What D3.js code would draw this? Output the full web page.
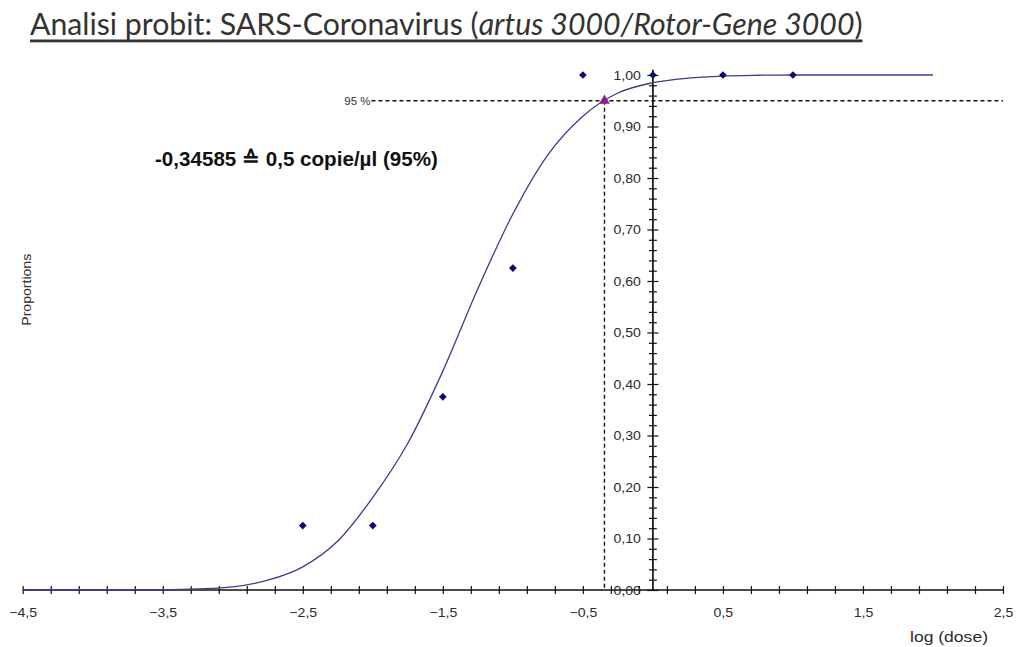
<!DOCTYPE html>
<html>
<head>
<meta charset="utf-8">
<script src="https://cdn.jsdelivr.net/npm/d3@7"></script>
<style>
  html, body { margin: 0; padding: 0; background: #fff; }
  svg { display: block; }
</style>
</head>
<body>
<svg id="chart" width="1017" height="647"></svg>
<script>
// ---- data ----
const titleMain = "Analisi probit: SARS-Coronavirus (";
const titleItalic = "artus 3000/Rotor-Gene 3000";
const titleEnd = ")";
const annotation = "-0,34585 \u2259 0,5 copie/\u00b5l (95%)";
const xLabel = "log (dose)";
const yLabel = "Proportions";
const hitLabel = "95 %";

const doseLog = [-2.5, -2.0, -1.5, -1.0, -0.5, 0.0, 0.5, 1.0];
const proportions = [0.125, 0.125, 0.375, 0.625, 1.0, 1.0, 1.0, 1.0];

const curveX = [-4.5, -4.0, -3.5, -3.25, -3.0, -2.75, -2.5, -2.25, -2.0, -1.75, -1.5, -1.25, -1.0, -0.75, -0.5, -0.25, 0.0, 0.25, 0.5, 0.75, 1.0, 1.5, 2.0];
const curveY = [0, 0, 0.0005, 0.002, 0.006, 0.019, 0.045, 0.095, 0.18, 0.285, 0.425, 0.585, 0.73, 0.845, 0.92, 0.965, 0.985, 0.994, 0.998, 0.9995, 1, 1, 1];

const hitX = -0.34585;
const hitY = 0.95;

const xTickLabels = [-4.5, -3.5, -2.5, -1.5, -0.5, 0.5, 1.5, 2.5];
const yTickLabels = [0, 0.1, 0.2, 0.3, 0.4, 0.5, 0.6, 0.7, 0.8, 0.9, 1.0];

// ---- setup ----
const svg = d3.select("#chart");
const x = d3.scaleLinear().domain([-4.5, 2.5]).range([22.7, 1003]);
const y = d3.scaleLinear().domain([0, 1]).range([590, 75]);
const loc = d3.formatLocale({decimal: ",", thousands: ".", grouping: [3], currency: ["", ""]});
const fx = loc.format(".1f");
const fy = loc.format(".2f");
const axisFont = "'Liberation Sans', Arial, sans-serif";
const stretch = 1.13;

// ---- title ----
const title = svg.append("text")
  .attr("x", 30).attr("y", 35)
  .attr("font-family", "Lato, 'Open Sans', sans-serif")
  .attr("font-size", 28)
  .attr("fill", "#333");
title.append("tspan").text(titleMain);
title.append("tspan").attr("font-style", "italic").text(titleItalic);
title.append("tspan").text(titleEnd);
{
  const w = title.node().getComputedTextLength();
  title.attr("font-size", 28 * 833 / w);
}
const tb = title.node().getBBox();
svg.append("rect")
  .attr("x", tb.x).attr("y", 39.5)
  .attr("width", tb.width).attr("height", 2.8)
  .attr("fill", "#333");

// ---- x axis ----
const xTicks = d3.range(0, 36).map(i => -4.5 + i * 0.2);
const xAxisG = svg.append("g")
  .attr("transform", `translate(0,${y(0)})`)
  .call(d3.axisBottom(x)
    .tickValues(xTicks)
    .tickSize(4)
    .tickFormat(d => xTickLabels.some(v => Math.abs(v - d) < 1e-6) ? fx(d) : ""));
xAxisG.select(".domain").attr("stroke", "#111").attr("stroke-width", 1.3).attr("d", `M${x(-4.5)},0H${x(2.5)}`);
xAxisG.selectAll(".tick line").attr("y1", -4).attr("y2", 4).attr("stroke", "#111").attr("stroke-width", 1.2);
xAxisG.selectAll(".tick text")
  .attr("y", 27).attr("dy", 0)
  .attr("transform", `scale(${stretch},1)`)
  .attr("font-family", axisFont).attr("font-size", 12.5).attr("fill", "#2a2a2a");

// ---- y axis ----
const yTicks = d3.range(0, 51).map(i => i * 0.02);
const isMajor = d => yTickLabels.some(v => Math.abs(v - d) < 1e-6);
const yAxisG = svg.append("g")
  .attr("transform", `translate(${x(0)},0)`)
  .call(d3.axisLeft(y)
    .tickValues(yTicks)
    .tickSize(5)
    .tickFormat(d => isMajor(d) ? fy(d) : ""));
yAxisG.select(".domain").attr("stroke", "#111").attr("stroke-width", 1.7).attr("d", `M0,${y(0)}V${y(1.01)}`);
yAxisG.selectAll(".tick line")
  .attr("x1", d => isMajor(d) ? -5.5 : -4)
  .attr("x2", d => isMajor(d) ? 5.5 : 4)
  .attr("stroke", "#111").attr("stroke-width", 1.2);
yAxisG.selectAll(".tick text")
  .attr("x", -12 / stretch)
  .attr("transform", `scale(${stretch},1)`)
  .attr("font-family", axisFont).attr("font-size", 12.5).attr("fill", "#2a2a2a");

// axis titles
const xl = svg.append("text")
  .attr("x", 0).attr("y", 0)
  .attr("text-anchor", "middle")
  .attr("font-family", axisFont).attr("font-size", 14).attr("fill", "#2a2a2a")
  .text(xLabel);
{
  const w = xl.node().getComputedTextLength();
  xl.attr("transform", `translate(949,642) scale(${78 / w},1)`);
}
const yl = svg.append("text")
  .attr("text-anchor", "middle")
  .attr("font-family", axisFont).attr("font-size", 12.5).attr("fill", "#2a2a2a")
  .text(yLabel);
{
  const w = yl.node().getComputedTextLength();
  yl.attr("transform", `translate(31,${y(0.583)}) rotate(-90) scale(${72 / w},1)`);
}

// ---- 95% reference lines ----
const hitText = svg.append("text")
  .attr("x", x(hitX) - 234).attr("y", y(hitY)).attr("dy", "0.35em")
  .attr("text-anchor", "end")
  .attr("font-family", axisFont).attr("font-size", 11.5).attr("fill", "#333")
  .text(hitLabel);
const hb = hitText.node().getBBox();
svg.append("line")
  .attr("x1", hb.x + hb.width + 1).attr("x2", x(2.5))
  .attr("y1", y(hitY)).attr("y2", y(hitY))
  .attr("stroke", "#111").attr("stroke-width", 1.4).attr("stroke-dasharray", "4,3");
svg.append("line")
  .attr("x1", x(hitX)).attr("x2", x(hitX))
  .attr("y1", y(hitY)).attr("y2", y(0))
  .attr("stroke", "#111").attr("stroke-width", 1.4).attr("stroke-dasharray", "4,3");

// ---- fitted curve ----
const line = d3.line().x(d => x(d[0])).y(d => y(d[1])).curve(d3.curveMonotoneX);
svg.append("path")
  .datum(curveX.map((v, i) => [v, curveY[i]]))
  .attr("d", line)
  .attr("fill", "none")
  .attr("stroke", "#3c3c8c")
  .attr("stroke-width", 1.3);

// ---- data points ----
svg.append("g").selectAll("path")
  .data(doseLog.map((v, i) => [v, proportions[i]]))
  .join("path")
  .attr("transform", d => `translate(${x(d[0])},${y(d[1])}) rotate(45)`)
  .attr("d", d3.symbol(d3.symbolSquare, 30))
  .attr("fill", "#0b0b6b");

// triangle at 95%
svg.append("path")
  .attr("transform", `translate(${x(hitX)},${y(hitY)})`)
  .attr("d", d3.symbol(d3.symbolTriangle, 50))
  .attr("fill", "#8a1e8a");

// ---- annotation ----
const ann = svg.append("text")
  .attr("x", 155).attr("y", 166)
  .attr("font-family", axisFont).attr("font-size", 17).attr("font-weight", "bold").attr("fill", "#111")
  .text(annotation);
{
  const w = ann.node().getComputedTextLength();
  ann.attr("font-size", 17 * 282 / w);
}
</script>
</body>
</html>
